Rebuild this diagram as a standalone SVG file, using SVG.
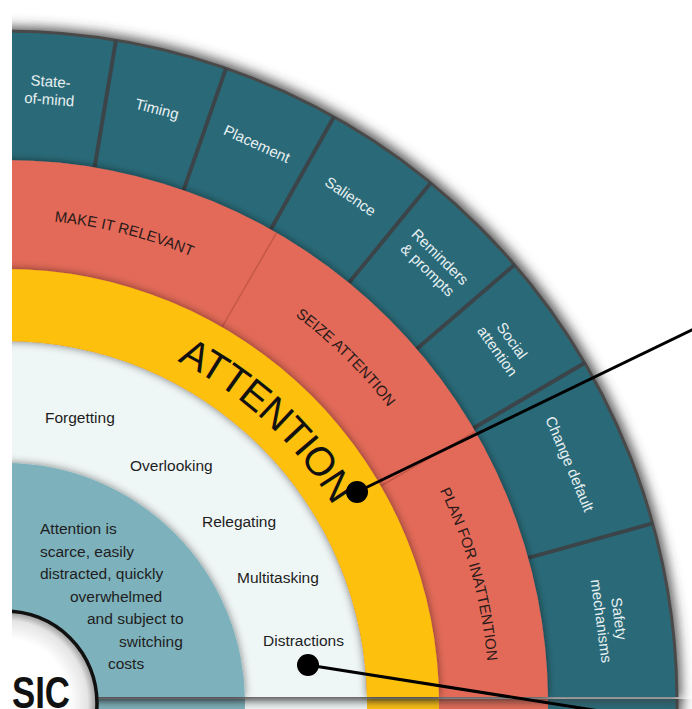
<svg xmlns="http://www.w3.org/2000/svg" width="692" height="709" viewBox="0 0 692 709">
<style>
.teal{fill:#2a6a78}
.red{fill:#e36a58}
.yel{fill:#fdc00f}
.wht{fill:#eff6f6}
.disc{fill:#7db1bb}
.div{stroke:#3b4448;stroke-width:4;stroke-linecap:butt}
.rdiv{stroke:#b9503f;stroke-width:1.5;opacity:.7}
.tl{font-family:"Liberation Sans",Arial,sans-serif;font-size:15px;fill:#e8f0f2;text-anchor:middle}
.rl{font-family:"Liberation Sans",Arial,sans-serif;font-size:15px;fill:#2a1a1a;text-anchor:middle}
.il{font-family:"Liberation Sans",Arial,sans-serif;font-size:15.5px;fill:#1d1d1d}
.big{font-family:"Liberation Sans",Arial,sans-serif;font-size:40px;fill:#111;text-anchor:middle;letter-spacing:-1px}
.sic{font-family:"Liberation Sans",Arial,sans-serif;font-size:44px;font-weight:bold;fill:#111}
.conn{stroke:#000;stroke-width:3;fill:none}
</style>
<defs>
  <clipPath id="up"><rect x="-100" y="-100" width="900" height="797"/></clipPath>
  <clipPath id="down"><rect x="-100" y="699" width="900" height="100"/></clipPath>
  <filter id="outer" filterUnits="userSpaceOnUse" x="-100" y="-100" width="900" height="950">
    <feMorphology in="SourceAlpha" operator="dilate" radius="3" result="d"/>
    <feGaussianBlur in="d" stdDeviation="6" result="b"/>
    <feFlood flood-color="#3a3a3a" flood-opacity="0.85"/>
    <feComposite in2="b" operator="in" result="s"/>
    <feMerge><feMergeNode in="s"/><feMergeNode in="SourceGraphic"/></feMerge>
  </filter>
  <filter id="sh" filterUnits="userSpaceOnUse" x="-100" y="-100" width="900" height="950">
    <feGaussianBlur in="SourceAlpha" stdDeviation="4" result="b"/>
    <feFlood flood-color="#000" flood-opacity="0.5"/>
    <feComposite in2="b" operator="in" result="s"/>
    <feMerge><feMergeNode in="s"/><feMergeNode in="SourceGraphic"/></feMerge>
  </filter>
  <radialGradient id="sicg" cx="5" cy="703" r="92" gradientUnits="userSpaceOnUse">
    <stop offset="0.7" stop-color="#ffffff"/>
    <stop offset="0.9" stop-color="#e4e4e4"/>
    <stop offset="1" stop-color="#959595"/>
  </radialGradient>
  <path id="pAtt" d="M 89.85 329.52 A 383 383 0 0 1 370.87 589.74"/>
  <path id="pMake" d="M -85.28 227.5 A 484 484 0 0 1 311.21 328.18"/>
  <path id="pSeize" d="M 167.36 247.04 A 484 484 0 0 1 458.64 534.29"/>
  <path id="pPlan" d="M 373.04 388.67 A 484 484 0 0 1 482.36 782.88"/>
</defs>

<!-- lower quadrant (partly visible) -->
<g id="lower-quadrant" clip-path="url(#down)">
  <circle cx="5" cy="703" r="672" class="teal" stroke="#4a4a4a" stroke-width="3" filter="url(#outer)"/>
  <circle cx="5" cy="703" r="543" class="red"/>
  <circle cx="5" cy="703" r="434" class="yel"/>
  <circle cx="5" cy="703" r="362" class="wht"/>
  <circle cx="5" cy="703" r="240" class="disc"/>
</g>

<!-- upper quadrant rings -->
<g id="ring-tactics" filter="url(#outer)">
  <circle cx="5" cy="703" r="672" class="teal" stroke="#4a4a4a" stroke-width="3" clip-path="url(#up)"/>
</g>
<g id="tactic-dividers">
  <line class="div" x1="94.62" y1="167.44" x2="115.91" y2="40.21"/>
  <line class="div" x1="183.58" y1="190.2" x2="226.0" y2="68.38"/>
  <line class="div" x1="270.73" y1="229.47" x2="333.86" y2="116.97"/>
  <line class="div" x1="348.93" y1="282.81" x2="430.63" y2="182.98"/>
  <line class="div" x1="416.66" y1="348.91" x2="514.46" y2="264.79"/>
  <line class="div" x1="473.34" y1="428.23" x2="584.61" y2="362.95"/>
  <line class="div" x1="528.25" y1="557.89" x2="652.56" y2="523.41"/>
</g>
<g id="ring-strategies" filter="url(#sh)">
  <circle cx="5" cy="703" r="543" class="red" clip-path="url(#up)"/>
</g>
<g id="strategy-dividers">
  <line class="rdiv" x1="222" y1="327.14" x2="276.5" y2="232.75"/>
  <line class="rdiv" x1="380.86" y1="486" x2="475.25" y2="431.5"/>
</g>
<g id="ring-barriers">
  <circle cx="5" cy="703" r="362" class="wht" clip-path="url(#up)"/>
</g>
<g id="ring-attention" filter="url(#sh)">
  <path class="yel" fill-rule="evenodd" clip-path="url(#up)" d="M -429 703 A 434 434 0 1 0 439 703 A 434 434 0 1 0 -429 703 Z M -357 703 A 362 362 0 1 0 367 703 A 362 362 0 1 0 -357 703 Z"/>
</g>
<g id="core-disc" filter="url(#sh)">
  <circle cx="5" cy="703" r="240" class="disc" clip-path="url(#up)"/>
</g>
<g id="basic-centre">
  <circle cx="5" cy="703" r="92" fill="url(#sicg)" stroke="#111" stroke-width="3.5"/>
  <text class="sic" x="12" y="708" textLength="58" lengthAdjust="spacingAndGlyphs">SIC</text>
</g>

<!-- tactic labels -->
<g id="n-state-of-mind" transform="translate(49.9 91.65) rotate(4.2)"><text class="tl"><tspan x="0" y="-5">State-</tspan><tspan x="0" y="13">of-mind</tspan></text></g>
<g id="n-timing" transform="translate(156.93 109.13) rotate(14.35)"><text class="tl" y="5">Timing</text></g>
<g id="n-placement" transform="translate(256.77 144.09) rotate(24.25)"><text class="tl" y="5">Placement</text></g>
<g id="n-salience" transform="translate(350.44 196.6) rotate(34.3)"><text class="tl" y="5">Salience</text></g>
<g id="n-reminders" transform="translate(433.04 264.2) rotate(44.3)"><text class="tl"><tspan x="0" y="-5">Reminders</tspan><tspan x="0" y="13">&amp; prompts</tspan></text></g>
<g id="n-social" transform="translate(503.74 346.59) rotate(54.45)"><text class="tl"><tspan x="0" y="-5">Social</tspan><tspan x="0" y="13">attention</tspan></text></g>
<g id="n-change-default" transform="translate(569.48 463.97) rotate(67.05)"><text class="tl" y="5">Change default</text></g>
<g id="n-safety" transform="translate(609 620) rotate(82.25)"><text class="tl"><tspan x="0" y="-5">Safety</tspan><tspan x="0" y="13">mechanisms</tspan></text></g>

<!-- strategy labels -->
<g id="n-make-relevant"><text class="rl"><textPath href="#pMake" startOffset="50%">MAKE IT RELEVANT</textPath></text></g>
<g id="n-seize"><text class="rl"><textPath href="#pSeize" startOffset="50%">SEIZE ATTENTION</textPath></text></g>
<g id="n-plan"><text class="rl"><textPath href="#pPlan" startOffset="50%">PLAN FOR INATTENTION</textPath></text></g>

<g id="n-attention"><text class="big"><textPath href="#pAtt" startOffset="50%">ATTENTION</textPath></text></g>

<!-- barrier labels -->
<g id="n-forgetting"><text class="il" x="45" y="423">Forgetting</text></g>
<g id="n-overlooking"><text class="il" x="130" y="471">Overlooking</text></g>
<g id="n-relegating"><text class="il" x="202" y="527">Relegating</text></g>
<g id="n-multitasking"><text class="il" x="237" y="583">Multitasking</text></g>
<g id="n-distractions"><text class="il" x="263" y="646">Distractions</text></g>

<!-- core description -->
<g id="n-core-text"><text class="il">
  <tspan x="40" y="534">Attention is</tspan>
  <tspan x="40" y="557">scarce, easily</tspan>
  <tspan x="40" y="579">distracted, quickly</tspan>
  <tspan x="70" y="602">overwhelmed</tspan>
  <tspan x="87" y="624">and subject to</tspan>
  <tspan x="119" y="647">switching</tspan>
  <tspan x="108" y="669">costs</tspan>
</text></g>

<!-- connectors -->
<g id="connectors">
  <line class="conn" x1="357" y1="492" x2="700" y2="326"/>
  <circle cx="357" cy="492" r="11" fill="#000"/>
  <line class="conn" x1="308" y1="665" x2="606" y2="712"/>
  <circle cx="308" cy="665" r="11" fill="#000"/>
</g>

<rect x="0" y="0" width="12" height="709" fill="#fff"/>
</svg>
